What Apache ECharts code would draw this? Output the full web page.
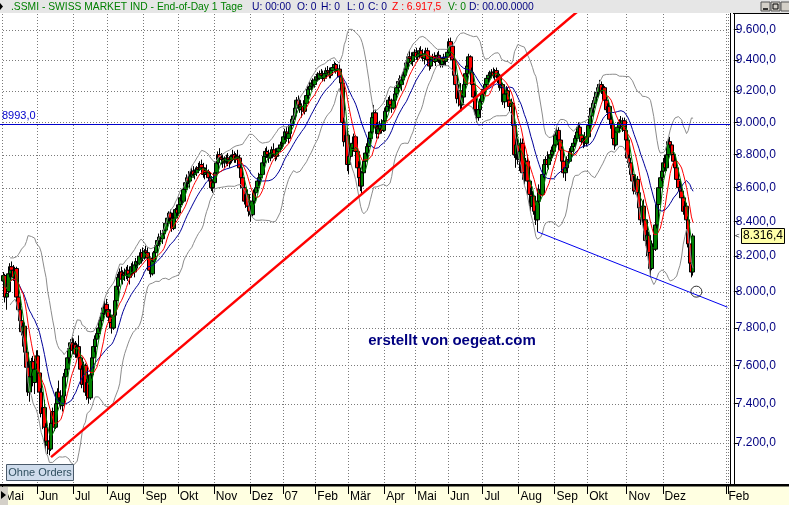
<!DOCTYPE html>
<html><head><meta charset="utf-8">
<script src="https://cdn.jsdelivr.net/npm/echarts@6/dist/echarts.min.js"></script>
<style>html,body{margin:0;padding:0;background:#fff}#c{width:789px;height:505px}</style>
</head><body><div id="c"></div>
<script>
// ---- data ----
const monthLabels = ['Mai','Jun','Jul','Aug','Sep','Okt','Nov','Dez','07','Feb','Mär','Apr','Mai','Jun','Jul','Aug','Sep','Okt','Nov','Dez','Feb'];
const monthDays   = [21,22,21,22,21,22,22,20,20,20,22,19,20,21,22,22,20,24,22,39,1];
const priceTicks  = [9600,9400,9200,9000,8800,8600,8400,8200,8000,7800,7600,7400,7200];
const levelLines  = [8993];
const trendRed    = [[29,7130],[360,9812]];
const trendBlue   = [[326,8340],[442,7914]];
const markCircle  = [[423,8000]];
// daily [open, high, low, close]
const ohlc = [
[8060,8110,8020,8090],[8090,8100,7940,7970],[7970,8010,7900,7990],[8000,8120,7990,8100],[8100,8160,8080,8140],
[8140,8170,8100,8120],[8120,8150,8060,8080],[8080,8140,8070,8130],[8130,8140,7950,7970],[7970,8000,7880,7900],
[7900,7940,7820,7840],[7840,7880,7760,7780],[7780,7830,7700,7810],[7810,7830,7650,7670],[7670,7720,7560,7590],
[7590,7620,7440,7460],[7460,7560,7410,7540],[7540,7640,7500,7620],[7620,7650,7490,7510],[7510,7600,7450,7580],
[7580,7680,7560,7650],[7650,7680,7540,7560],[7560,7590,7440,7460],[7460,7480,7330,7350],[7350,7400,7270,7380],
[7380,7420,7260,7280],[7280,7300,7160,7190],[7190,7230,7145,7210],[7210,7240,7139,7170],[7170,7320,7160,7300],
[7300,7380,7280,7360],[7360,7390,7260,7280],[7280,7420,7270,7400],[7400,7480,7380,7460],[7460,7520,7410,7430],
[7430,7470,7370,7390],[7390,7450,7360,7440],[7440,7560,7430,7540],[7540,7600,7500,7580],[7580,7660,7560,7640],
[7640,7700,7610,7690],[7690,7740,7650,7720],[7720,7750,7660,7680],[7680,7740,7660,7710],[7710,7730,7640,7660],
[7660,7720,7640,7700],[7700,7760,7620,7640],[7640,7660,7560,7580],[7580,7600,7480,7500],[7500,7620,7480,7600],
[7600,7610,7440,7460],[7460,7530,7420,7510],[7510,7530,7400,7430],[7430,7560,7420,7550],[7550,7660,7530,7640],
[7640,7720,7620,7700],[7700,7760,7670,7740],[7740,7790,7700,7770],[7770,7820,7740,7800],[7800,7860,7780,7840],
[7840,7900,7820,7880],[7880,7930,7850,7910],[7910,7950,7870,7930],[7930,7960,7880,7900],[7900,7920,7830,7860],
[7860,7900,7800,7830],[7830,7860,7770,7800],[7800,7880,7790,7870],[7870,7960,7860,7950],[7950,8040,7940,8030],
[8030,8100,8010,8080],[8080,8130,8050,8110],[8110,8140,8050,8070],[8070,8120,8040,8100],[8100,8130,8060,8090],
[8090,8140,8070,8120],[8120,8150,8060,8080],[8080,8120,8040,8100],[8100,8160,8090,8140],[8140,8170,8090,8110],
[8110,8160,8080,8150],[8150,8190,8120,8170],[8170,8200,8130,8160],[8160,8210,8150,8200],[8200,8240,8170,8220],
[8220,8250,8170,8190],[8190,8240,8180,8230],[8230,8260,8200,8220],[8220,8250,8170,8190],[8190,8210,8100,8120],
[8120,8160,8080,8100],[8100,8180,8090,8170],[8170,8230,8160,8220],[8220,8280,8200,8260],[8260,8310,8240,8290],
[8290,8330,8260,8310],[8310,8350,8280,8300],[8300,8340,8270,8330],[8330,8370,8300,8350],[8350,8400,8330,8390],
[8390,8440,8370,8420],[8420,8460,8400,8450],[8450,8470,8400,8420],[8420,8450,8340,8360],[8360,8430,8350,8420],
[8420,8480,8400,8470],[8470,8500,8430,8450],[8450,8510,8440,8500],[8500,8560,8480,8540],[8540,8580,8500,8520],
[8520,8600,8510,8590],[8590,8650,8570,8630],[8630,8680,8600,8660],[8660,8700,8620,8640],[8640,8690,8600,8670],
[8670,8720,8650,8700],[8700,8730,8660,8680],[8680,8710,8650,8690],[8690,8730,8670,8720],[8720,8750,8690,8710],
[8710,8760,8700,8740],[8740,8770,8700,8720],[8720,8750,8660,8680],[8680,8720,8650,8700],[8700,8740,8670,8690],
[8690,8710,8640,8660],[8660,8700,8620,8640],[8640,8670,8580,8600],[8600,8650,8570,8630],[8630,8700,8620,8690],
[8690,8760,8680,8750],[8750,8820,8740,8800],[8800,8840,8760,8780],[8780,8810,8740,8770],[8770,8800,8720,8750],
[8750,8790,8720,8760],[8760,8800,8740,8780],[8780,8810,8730,8750],[8750,8790,8720,8770],[8770,8800,8740,8790],
[8790,8830,8760,8800],[8800,8820,8750,8770],[8770,8810,8750,8790],[8790,8830,8760,8780],[8780,8800,8700,8720],
[8720,8740,8640,8660],[8660,8680,8580,8600],[8600,8630,8500,8520],[8520,8580,8480,8560],[8560,8590,8470,8490],
[8490,8520,8430,8460],[8460,8490,8400,8440],[8440,8540,8430,8520],[8520,8590,8500,8570],[8570,8620,8540,8600],
[8600,8660,8580,8640],[8640,8690,8610,8660],[8660,8700,8630,8680],[8680,8760,8670,8750],[8750,8800,8730,8790],
[8790,8840,8760,8820],[8820,8850,8780,8800],[8800,8830,8750,8780],[8780,8830,8760,8810],[8810,8850,8780,8830],
[8830,8870,8790,8800],[8800,8840,8760,8790],[8790,8830,8770,8820],[8820,8860,8800,8840],[8840,8880,8820,8860],
[8860,8890,8830,8870],[8870,8930,8860,8910],[8910,8960,8890,8940],[8940,8970,8880,8900],[8900,8950,8870,8930],
[8930,8990,8920,8980],[8980,9040,8960,9020],[9020,9060,8990,9040],[9040,9110,9020,9090],[9090,9160,9070,9140],
[9140,9170,9090,9110],[9110,9150,9060,9080],[9080,9120,9030,9100],[9100,9140,9060,9070],[9070,9130,9050,9120],
[9120,9190,9100,9170],[9170,9230,9150,9210],[9210,9260,9180,9230],[9230,9270,9200,9250],[9250,9280,9210,9240],
[9240,9290,9220,9270],[9270,9310,9250,9290],[9290,9320,9260,9280],[9280,9330,9270,9310],[9310,9340,9280,9300],
[9300,9330,9260,9280],[9280,9320,9260,9310],[9310,9350,9290,9330],[9330,9360,9300,9320],[9320,9350,9280,9300],
[9300,9340,9280,9330],[9330,9370,9310,9350],[9350,9390,9320,9370],[9370,9380,9310,9330],[9330,9360,9300,9340],
[9340,9370,9270,9290],[9290,9300,9230,9250],[9250,9270,8980,9000],[9000,9030,8850,8880],[8880,8950,8800,8920],
[8920,8960,8700,8740],[8740,8820,8680,8790],[8790,8860,8760,8840],[8840,8900,8800,8870],[8870,8930,8850,8910],
[8910,8920,8800,8820],[8820,8840,8700,8720],[8720,8760,8640,8660],[8660,8700,8580,8610],[8610,8700,8566,8690],
[8690,8780,8670,8760],[8760,8830,8740,8810],[8810,8870,8790,8850],[8850,8920,8830,8900],[8900,8960,8880,8940],
[8940,9050,8930,9030],[9030,9110,9000,9060],[9060,9080,8950,8970],[8970,9000,8900,8930],[8930,8980,8900,8960],
[8960,9010,8930,8990],[8990,9020,8930,8950],[8950,9030,8940,9010],[9010,9090,9000,9070],[9070,9120,9050,9100],
[9100,9160,9080,9140],[9140,9170,9080,9110],[9110,9150,9060,9090],[9090,9150,9080,9140],[9140,9200,9120,9180],
[9180,9240,9160,9220],[9220,9280,9200,9260],[9260,9300,9220,9240],[9240,9290,9200,9270],[9270,9320,9250,9300],
[9300,9360,9280,9340],[9340,9400,9320,9380],[9380,9440,9350,9420],[9420,9460,9380,9410],[9410,9450,9370,9390],
[9390,9440,9360,9430],[9430,9470,9400,9450],[9450,9480,9400,9420],[9420,9460,9390,9440],[9440,9480,9410,9460],
[9460,9490,9420,9430],[9430,9470,9390,9410],[9410,9450,9370,9440],[9440,9480,9420,9460],[9460,9480,9390,9400],
[9400,9420,9330,9360],[9360,9420,9340,9400],[9400,9440,9370,9420],[9420,9450,9380,9390],[9390,9430,9360,9410],
[9410,9450,9390,9430],[9430,9460,9380,9400],[9400,9430,9350,9370],[9370,9420,9350,9410],[9410,9440,9370,9390],
[9390,9430,9360,9420],[9420,9470,9400,9450],[9450,9540,9440,9520],[9520,9547,9470,9490],[9490,9500,9380,9400],
[9400,9420,9280,9300],[9300,9340,9210,9240],[9240,9260,9120,9150],[9150,9230,9100,9200],[9200,9250,9070,9110],
[9110,9180,9070,9160],[9160,9260,9140,9240],[9240,9330,9220,9310],[9310,9380,9290,9360],[9360,9440,9340,9420],
[9420,9430,9300,9320],[9320,9350,9210,9240],[9240,9260,9130,9160],[9160,9200,9050,9080],[9080,9120,9000,9030],
[9030,9100,9010,9080],[9080,9150,9050,9130],[9130,9200,9110,9180],[9180,9230,9150,9210],[9210,9260,9180,9240],
[9240,9300,9220,9280],[9280,9320,9250,9300],[9300,9330,9260,9310],[9310,9340,9280,9320],[9320,9350,9280,9300],
[9300,9340,9270,9330],[9330,9350,9280,9290],[9290,9320,9250,9300],[9300,9310,9200,9220],[9220,9260,9180,9240],
[9240,9250,9110,9130],[9130,9200,9090,9180],[9180,9230,9150,9200],[9200,9220,9120,9140],[9140,9180,9070,9100],
[9100,9150,9060,9120],[9120,9130,8950,8980],[8980,9000,8780,8800],[8800,8900,8720,8860],[8860,8900,8740,8770],
[8770,8850,8700,8820],[8820,8900,8760,8870],[8870,8900,8660,8690],[8690,8740,8620,8650],[8650,8780,8640,8760],
[8760,8800,8620,8640],[8640,8680,8520,8560],[8560,8600,8460,8490],[8490,8580,8470,8550],[8550,8570,8440,8460],
[8460,8500,8380,8410],[8410,8560,8340,8520],[8520,8620,8500,8590],[8590,8640,8530,8560],[8560,8700,8550,8680],
[8680,8760,8660,8740],[8740,8790,8700,8770],[8770,8820,8720,8740],[8740,8800,8710,8780],[8780,8830,8750,8800],
[8800,8850,8760,8820],[8820,8880,8800,8860],[8860,8940,8850,8920],[8920,8970,8890,8950],[8950,8970,8870,8890],
[8890,8910,8800,8830],[8830,8850,8740,8760],[8760,8780,8660,8690],[8690,8740,8640,8720],[8720,8790,8700,8770],
[8770,8810,8730,8760],[8760,8840,8750,8820],[8820,8870,8790,8850],[8850,8890,8810,8870],[8870,8920,8850,8900],
[8900,8960,8880,8940],[8940,9000,8910,8970],[8970,8990,8900,8920],[8920,8950,8860,8880],[8880,8920,8840,8900],
[8900,8940,8850,8870],[8870,8930,8850,8910],[8910,9000,8900,8980],[8980,9060,8960,9040],[9040,9110,9020,9090],
[9090,9140,9060,9120],[9120,9180,9100,9160],[9160,9210,9130,9190],[9190,9240,9160,9220],[9220,9270,9190,9240],
[9240,9260,9180,9200],[9200,9240,9160,9220],[9220,9230,9120,9140],[9140,9160,9060,9080],[9080,9120,9030,9100],
[9100,9110,9000,9020],[9020,9060,8960,8990],[8990,9010,8880,8900],[8900,8930,8830,8860],[8860,8960,8850,8940],
[8940,8990,8910,8970],[8970,9020,8950,9000],[9000,9040,8960,8990],[8990,9030,8940,9010],[9010,9030,8920,8950],
[8950,8980,8870,8890],[8890,8920,8760,8780],[8780,8800,8720,8750],[8750,8770,8660,8680],[8680,8720,8600,8640],
[8640,8670,8560,8580],[8580,8680,8560,8650],[8650,8670,8540,8570],[8570,8600,8450,8480],[8480,8520,8380,8410],
[8410,8520,8390,8490],[8490,8530,8390,8410],[8410,8440,8260,8290],[8290,8350,8200,8320],[8320,8340,8180,8220],
[8220,8260,8080,8130],[8130,8290,8120,8270],[8270,8330,8200,8240],[8240,8400,8230,8380],[8380,8520,8360,8500],
[8500,8620,8480,8600],[8600,8680,8560,8660],[8660,8720,8640,8700],[8700,8780,8670,8750],[8750,8800,8700,8720],
[8720,8820,8700,8800],[8800,8900,8780,8880],[8880,8910,8840,8860],[8860,8880,8780,8800],[8800,8840,8740,8760],
[8760,8800,8690,8720],[8720,8760,8620,8650],[8650,8700,8580,8600],[8600,8640,8540,8580],[8580,8620,8510,8540],
[8540,8570,8440,8460],[8460,8520,8420,8490],[8490,8510,8390,8410],[8410,8430,8250,8270],[8270,8300,8130,8160],
[8160,8200,8080,8110],[8110,8330,8090,8316.4]
];
const yMinPrice = 6993, yMaxPrice = 9705;

// ---- helpers ----
const ln = Math.log;
function deFmt(v, dec, thousands) {
  const s = v.toFixed(dec).split('.');
  let ip = s[0];
  if (thousands) ip = ip.replace(/\B(?=(\d{3})+(?!\d))/g, '.');
  return ip + (dec ? ',' + s[1] : '');
}
const categories = [];
const monthStart = new Set();
monthLabels.forEach((m, k) => {
  monthStart.add(categories.length);
  for (let d = 0; d < monthDays[k]; d++) categories.push(m + '|' + k + '|' + d);
});
const isStart = (i) => monthStart.has(i);
const closes = ohlc.map(r => r[3]);
function sma(arr, n) {
  return arr.map((_, i) => {
    const w = arr.slice(Math.max(0, i - n + 1), i + 1);
    return ln(w.reduce((a, b) => a + b, 0) / w.length);
  });
}
function boll(arr, n, k) {
  const up = [], lo = [];
  arr.forEach((_, i) => {
    const w = arr.slice(Math.max(0, i - n + 1), i + 1);
    if (w.length < 5) { up.push(null); lo.push(null); return; }
    const m = w.reduce((a, b) => a + b, 0) / w.length;
    const sd = Math.sqrt(w.reduce((a, b) => a + (b - m) * (b - m), 0) / w.length);
    up.push(ln(m + k * sd)); lo.push(ln(m - k * sd));
  });
  return [up, lo];
}
const ma5 = sma(closes, 5), ma10 = sma(closes, 10), ma20 = sma(closes, 20);
const [bbUp, bbLo] = boll(closes, 20, 2);
const candleData = ohlc.map(r => [ln(r[0]), ln(r[3]), ln(r[2]), ln(r[1])]);
const FONT = '"Liberation Sans", Arial, sans-serif';
function ind(data, color) {
  return { type: 'line', data, showSymbol: false, symbol: 'none', silent: true, z: 3,
           lineStyle: { color, width: 1 }, connectNulls: false };
}
// horizontal full-width rule drawn through the y scale, pixel-aligned
function hRule(values, stroke, dash, z, x0, extendRight) {
  return {
    type: 'custom', silent: true, z, clip: false,
    data: values.map(v => [0, ln(v)]),
    encode: { x: 0, y: 1 },
    renderItem: (params, api) => {
      const cs = params.coordSys;
      const y = Math.round(api.coord([0, api.value(1)])[1]) + 0.5;
      const x1 = x0 == null ? Math.round(cs.x) : x0;
      return { type: 'line', shape: { x1, y1: y, x2: Math.round(cs.x + cs.width) + extendRight, y2: y },
               style: { stroke, lineWidth: 1, lineDash: dash, fill: null } };
    }
  };
}

const chart = echarts.init(document.getElementById('c'), null, { renderer: 'canvas' });
chart.setOption({
  animation: false,
  backgroundColor: '#fff',
  textStyle: { fontFamily: FONT },
  grid: { left: 2.7, top: 14, width: 725.6, height: 471 },
  xAxis: {
    type: 'category', data: categories, boundaryGap: true,
    axisLine: { show: false },
    axisTick: { show: true, interval: isStart, length: 9, lineStyle: { color: '#000' } },
    axisLabel: { interval: isStart, formatter: v => v.split('|')[0], align: 'left', color: '#000',
                 fontSize: 12, fontFamily: FONT, margin: 6, padding: [0, 0, 0, 1] },
    splitLine: { show: true, interval: isStart, lineStyle: { color: '#7a7a7a', type: [1, 2], width: 1 } }
  },
  yAxis: {
    type: 'value', position: 'right', offset: 5.5,
    min: ln(yMinPrice), max: ln(yMaxPrice),
    splitLine: { show: false },
    axisLine: { show: true, lineStyle: { color: '#000' } },
    axisTick: { show: true, customValues: priceTicks.map(ln), length: 5, lineStyle: { color: '#000' } },
    axisLabel: { customValues: priceTicks.map(ln), formatter: v => deFmt(Math.round(Math.exp(v)), 1, true),
                 color: '#000080', fontSize: 12, fontFamily: FONT, margin: 2 }
  },
  series: [
    hRule(priceTicks, '#7a7a7a', [1, 2], 1, null, -1),
    { type: 'candlestick', data: candleData, barWidth: 4, z: 2, silent: true,
      itemStyle: { color: '#008000', color0: '#FF0000', borderColor: '#000', borderColor0: '#000', borderWidth: 1 } },
    ind(bbUp, '#8c8c8c'), ind(bbLo, '#8c8c8c'),
    ind(ma20, '#000099'), ind(ma10, '#FF0000'), ind(ma5, '#008000'),
    hRule(levelLines, '#0000CC', null, 4, 0, 2),
    { type: 'line', data: trendRed.map(p => [p[0], ln(p[1])]), showSymbol: false, symbol: 'none', z: 5, silent: true,
      lineStyle: { color: '#FF0000', width: 2.5 } },
    { type: 'line', data: trendBlue.map(p => [p[0], ln(p[1])]), showSymbol: false, symbol: 'none', z: 5, silent: true,
      lineStyle: { color: '#0000EE', width: 1 } },
    { type: 'scatter', data: markCircle.map(p => [p[0], ln(p[1])]), symbol: 'circle', symbolSize: 11, z: 6, silent: true,
      itemStyle: { color: 'rgba(255,255,255,0)', borderColor: '#000', borderWidth: 1 } }
  ]
});

// ---- decorations positioned through the axis scale ----
const lastClose = closes[closes.length - 1];
const yLast = chart.convertToPixel({ yAxisIndex: 0 }, ln(lastClose));
const yLevel = chart.convertToPixel({ yAxisIndex: 0 }, ln(levelLines[0]));
const hdr = (x, text, color) => ({ type: 'text', x, y: 7, z: 20,
  style: { text, fill: color, font: '10.3px ' + FONT, textVerticalAlign: 'middle' } });
chart.setOption({
  graphic: [
    { type: 'rect', shape: { x: 0, y: 0, width: 789, height: 13 }, style: { fill: '#E6E6E6' }, z: 19 },
    { type: 'polygon', shape: { points: [[0, 3], [3, 6.5], [0, 10]] }, style: { fill: '#000' }, z: 20 },
    hdr(11, '.SSMI - SWISS MARKET IND - End-of-Day 1 Tage', '#008000'),
    hdr(252, 'U: 00:00', '#000080'),
    hdr(297, 'O: 0', '#000080'),
    hdr(321, 'H: 0', '#000080'),
    hdr(347, 'L: 0', '#000080'),
    hdr(368, 'C: 0', '#000080'),
    hdr(392, 'Z : 6.917,5', '#FF0000'),
    hdr(448, 'V: 0', '#008000'),
    hdr(469, 'D: 00.00.0000', '#000080'),
    { type: 'rect', shape: { x: 761, y: 2, width: 9, height: 9 }, style: { fill: '#D4D0C8', stroke: '#555', lineWidth: 1 }, z: 20 },
    { type: 'rect', shape: { x: 771, y: 2, width: 9, height: 9 }, style: { fill: '#D4D0C8', stroke: '#555', lineWidth: 1 }, z: 20 },
    { type: 'rect', shape: { x: 781, y: 2, width: 9, height: 9 }, style: { fill: '#D4D0C8', stroke: '#555', lineWidth: 1 }, z: 20 },
    { type: 'line', shape: { x1: 763, y1: 9, x2: 768, y2: 9 }, style: { stroke: '#000', lineWidth: 1.5 }, z: 21 },
    { type: 'rect', shape: { x: 773, y: 4, width: 5, height: 5 }, style: { fill: 'none', stroke: '#000', lineWidth: 1 }, z: 21 },
    // frame lines
    { type: 'line', shape: { x1: 730.5, y1: 13, x2: 730.5, y2: 485 }, style: { stroke: '#000', lineWidth: 1 }, z: 20 },
    { type: 'line', shape: { x1: 733, y1: 13.5, x2: 789, y2: 13.5 }, style: { stroke: '#000', lineWidth: 1 }, z: 20 },
    // date strip
    { type: 'rect', shape: { x: 0, y: 486, width: 789, height: 19 }, style: { fill: '#FFFFE1' }, z: -5 },
    { type: 'rect', shape: { x: 0, y: 484, width: 789, height: 2.5 }, style: { fill: '#000' }, z: 20 },
    { type: 'rect', shape: { x: 0, y: 487, width: 8, height: 18 }, style: { fill: '#D4D0C8' }, z: 20 },
    { type: 'polygon', shape: { points: [[1, 491], [6, 495], [1, 499]] }, style: { fill: '#000' }, z: 21 },
    // Ohne Orders
    { type: 'rect', shape: { x: 6.5, y: 464.5, width: 67, height: 16 }, style: { fill: '#CFDCEC', stroke: '#4A5A6A', lineWidth: 1 }, z: 20 },
    { type: 'text', x: 40, y: 473, z: 21, style: { text: 'Ohne Orders', fill: '#2E4E5E', font: '11px ' + FONT, textAlign: 'center', textVerticalAlign: 'middle' } },
    // watermark
    { type: 'text', x: 452, y: 341, z: 21, style: { text: 'erstellt von oegeat.com', fill: '#000080', font: 'bold 15px ' + FONT, textAlign: 'center', textVerticalAlign: 'middle' } },
    // level label
    { type: 'text', x: 2, y: yLevel - 8, z: 21, style: { text: deFmt(levelLines[0], 1, false), fill: '#0000CC', font: '11px ' + FONT, textVerticalAlign: 'middle' } },
    // last price box
    { type: 'rect', shape: { x: 741.5, y: Math.round(yLast) - 7.5, width: 43, height: 15 }, style: { fill: '#FFFFA8', stroke: '#000', lineWidth: 1 }, z: 21 },
    { type: 'text', x: 763, y: yLast, z: 22, style: { text: deFmt(lastClose, 1, true), fill: '#000', font: '12px ' + FONT, textAlign: 'center', textVerticalAlign: 'middle' } },
    { type: 'text', x: 735, y: yLast, z: 22, style: { text: '<', fill: '#000', font: '8px ' + FONT, textVerticalAlign: 'middle' } }
  ]
});
</script>
</body></html>
